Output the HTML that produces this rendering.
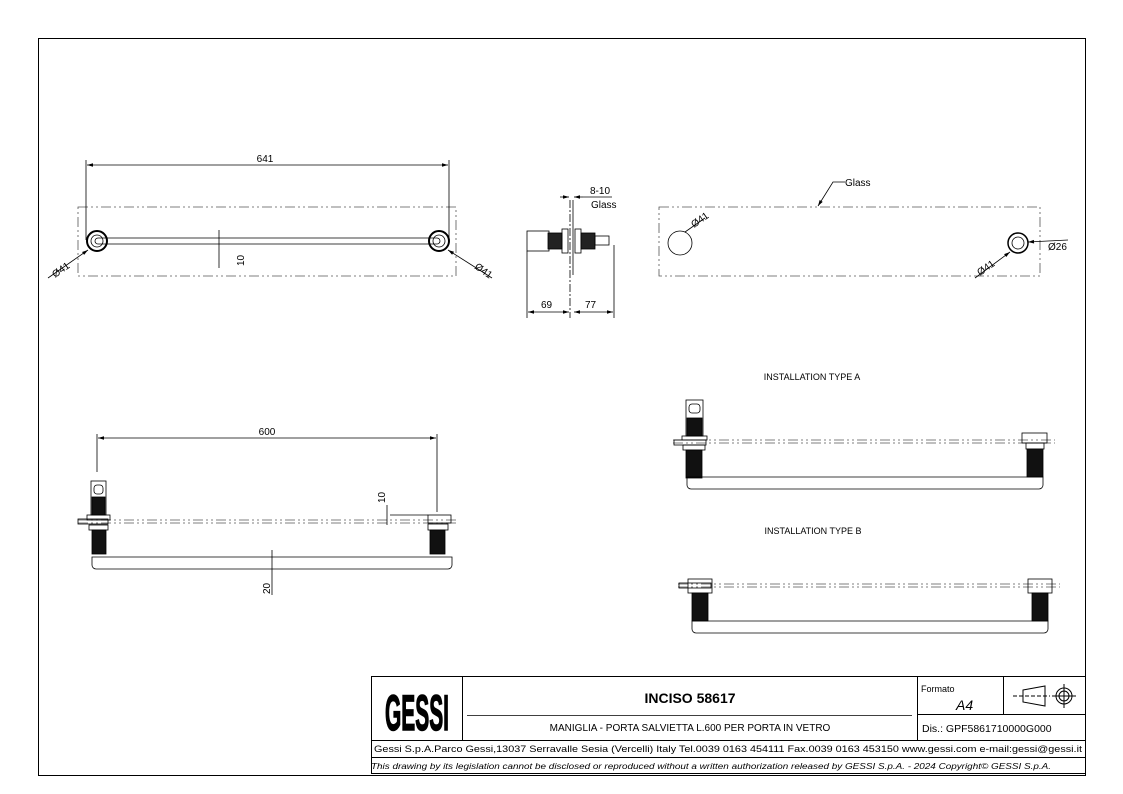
<!DOCTYPE html>
<html><head><meta charset="utf-8"><style>
html,body{margin:0;padding:0;background:#fff}
svg{display:block}
text{font-family:"Liberation Sans",sans-serif;fill:#000}
</style></head><body>
<svg width="1123" height="794" viewBox="0 0 1123 794" xmlns="http://www.w3.org/2000/svg">
<defs>
<marker id="a" viewBox="0 0 10 10" refX="10" refY="5" markerWidth="9" markerHeight="6" markerUnits="userSpaceOnUse" orient="auto-start-reverse"><path d="M0,2 L10,5 L0,8 z" fill="#000"/></marker>
</defs>
<rect x="38.5" y="38.5" width="1047" height="737" fill="none" stroke="#000" stroke-width="1"/>

<!-- top-left view -->
<g stroke="#000" fill="none" stroke-width="0.8">
<rect x="78" y="207" width="378" height="69" stroke-dasharray="10,3,2,3,2,3" stroke="#555"/>
<line x1="86" y1="160" x2="86" y2="240"/><line x1="449" y1="160" x2="449" y2="240"/>
<line x1="87" y1="165" x2="448" y2="165" marker-start="url(#a)" marker-end="url(#a)"/>
<rect x="95" y="238" width="345" height="6" rx="3"/>
<circle cx="97" cy="241" r="10" stroke-width="2"/><circle cx="97" cy="241" r="6"/>
<circle cx="439" cy="241" r="10" stroke-width="2"/><circle cx="439" cy="241" r="6"/>
<line x1="219" y1="230" x2="219" y2="268"/>
<line x1="48" y1="278" x2="88" y2="250" marker-end="url(#a)"/>
<line x1="448" y1="250" x2="492" y2="278" marker-start="url(#a)"/>
</g>
<text x="265" y="162" font-size="10" text-anchor="middle">641</text>
<text transform="translate(244,266) rotate(-90)" font-size="10">10</text>
<text transform="translate(55,278) rotate(-35)" font-size="10">Ø41</text>
<text transform="translate(474,268) rotate(35)" font-size="10">Ø41</text>

<!-- side view -->
<g stroke="#000" fill="none" stroke-width="0.8">
<line x1="570" y1="200" x2="570" y2="318" stroke-dasharray="8,2,2,2"/>
<line x1="573" y1="200" x2="573" y2="275"/>
<rect x="527" y="231" width="22" height="20"/>
<rect x="548" y="233" width="14" height="16" fill="#222"/>
<rect x="562" y="229" width="6" height="24"/>
<rect x="575" y="229" width="6" height="24"/>
<rect x="581" y="233" width="14" height="16" fill="#222"/>
<rect x="595" y="236" width="14" height="9"/>
<line x1="527" y1="251" x2="527" y2="318"/><line x1="614" y1="245" x2="614" y2="318"/>
<line x1="528" y1="312" x2="569" y2="312" marker-start="url(#a)" marker-end="url(#a)"/>
<line x1="574" y1="312" x2="613" y2="312" marker-start="url(#a)" marker-end="url(#a)"/>
<line x1="560" y1="197" x2="569" y2="197" marker-end="url(#a)"/>
<line x1="583" y1="197" x2="574" y2="197" marker-end="url(#a)"/>
<line x1="583" y1="197" x2="612" y2="197"/>
</g>
<text x="590" y="194" font-size="10">8-10</text>
<text x="591" y="208" font-size="10">Glass</text>
<text x="541" y="308" font-size="10">69</text>
<text x="585" y="308" font-size="10">77</text>

<!-- top right -->
<g stroke="#000" fill="none" stroke-width="0.8">
<rect x="659" y="207" width="381" height="69" stroke-dasharray="10,3,2,3,2,3" stroke="#555"/>
<circle cx="680" cy="243" r="12"/>
<circle cx="1018" cy="243" r="10" stroke-width="1.5"/><circle cx="1018" cy="243" r="6"/>
<polyline points="818,206 833,182 845,182" marker-start="url(#a)"/>
<line x1="975" y1="278" x2="1010" y2="252" marker-end="url(#a)"/>
<line x1="1068" y1="240" x2="1028" y2="242" marker-end="url(#a)"/>
<line x1="685" y1="232" x2="705" y2="218"/>
</g>
<text x="845" y="186" font-size="10">Glass</text>
<text transform="translate(694,228) rotate(-35)" font-size="10">Ø41</text>
<text transform="translate(980,276) rotate(-35)" font-size="10">Ø41</text>
<text x="1048" y="250" font-size="10">Ø26</text>

<!-- bottom left -->
<g stroke="#000" fill="none" stroke-width="0.8">
<line x1="97" y1="434" x2="97" y2="472"/><line x1="437" y1="434" x2="437" y2="512"/>
<line x1="98" y1="438" x2="436" y2="438" marker-start="url(#a)" marker-end="url(#a)"/>
<line x1="78" y1="520" x2="458" y2="520" stroke-dasharray="10,3,2,3,2,3" stroke="#555"/>
<line x1="78" y1="523" x2="458" y2="523" stroke-dasharray="10,3,2,3,2,3" stroke="#555"/>
<rect x="91" y="481" width="15" height="34"/>
<rect x="94" y="485" width="9" height="9" rx="3"/>
<rect x="92" y="497" width="13" height="18" fill="#111"/>
<rect x="87" y="515" width="23" height="5"/>
<rect x="78" y="519" width="30" height="5"/>
<rect x="89" y="525" width="19" height="5"/>
<rect x="92" y="530" width="14" height="24" fill="#111"/>
<rect x="428" y="515" width="23" height="8"/>
<rect x="428" y="524" width="20" height="6"/>
<rect x="430" y="530" width="15" height="24" fill="#111"/>
<path d="M92,557 h360 v8 a4,4 0 0 1 -4,4 h-352 a4,4 0 0 1 -4,-4 z"/>
<line x1="387" y1="505" x2="387" y2="525"/>
<line x1="390" y1="515" x2="428" y2="515"/>
<line x1="272" y1="550" x2="272" y2="595"/>
</g>
<text x="267" y="435" font-size="10" text-anchor="middle">600</text>
<text transform="translate(385,503) rotate(-90)" font-size="10">10</text>
<text transform="translate(270,594) rotate(-90)" font-size="10">20</text>

<!-- installation A -->
<text x="812" y="380" font-size="9" text-anchor="middle">INSTALLATION TYPE A</text>
<g stroke="#000" fill="none" stroke-width="0.8">
<line x1="673" y1="440" x2="1055" y2="440" stroke-dasharray="10,3,2,3,2,3" stroke="#555"/>
<line x1="673" y1="443" x2="1055" y2="443" stroke-dasharray="10,3,2,3,2,3" stroke="#555"/>
<rect x="686" y="400" width="17" height="36"/>
<rect x="689" y="404" width="11" height="9" rx="3"/>
<rect x="687" y="418" width="15" height="18" fill="#111"/>
<rect x="682" y="436" width="25" height="4"/>
<rect x="674" y="440" width="32" height="5"/>
<rect x="683" y="445" width="22" height="5"/>
<rect x="686" y="450" width="16" height="28" fill="#111"/>
<rect x="1022" y="433" width="25" height="10"/>
<rect x="1026" y="443" width="18" height="6"/>
<rect x="1027" y="449" width="16" height="28" fill="#111"/>
<path d="M687,477 h356 v8 a4,4 0 0 1 -4,4 h-348 a4,4 0 0 1 -4,-4 z"/>
</g>

<!-- installation B -->
<text x="813" y="534" font-size="9" text-anchor="middle">INSTALLATION TYPE B</text>
<g stroke="#000" fill="none" stroke-width="0.8">
<line x1="678" y1="584" x2="1060" y2="584" stroke-dasharray="10,3,2,3,2,3" stroke="#555"/>
<line x1="678" y1="587" x2="1060" y2="587" stroke-dasharray="10,3,2,3,2,3" stroke="#555"/>
<rect x="688" y="579" width="24" height="14"/>
<rect x="679" y="583" width="32" height="5"/>
<rect x="692" y="593" width="16" height="28" fill="#111"/>
<rect x="1028" y="579" width="24" height="14"/>
<rect x="1032" y="593" width="16" height="28" fill="#111"/>
<path d="M692,621 h356 v8 a4,4 0 0 1 -4,4 h-348 a4,4 0 0 1 -4,-4 z"/>
</g>

<!-- title block -->
<g stroke="#000" fill="none" stroke-width="1">
<rect x="371.5" y="676.5" width="714" height="97"/>
<line x1="371" y1="740.5" x2="1085" y2="740.5"/>
<line x1="371" y1="757.5" x2="1085" y2="757.5"/>
<line x1="462.5" y1="676" x2="462.5" y2="740"/>
<line x1="917.5" y1="676" x2="917.5" y2="740"/>
<line x1="1003.5" y1="676" x2="1003.5" y2="714"/>
<line x1="917" y1="714.5" x2="1085" y2="714.5"/>
<line x1="467" y1="715.5" x2="912" y2="715.5" stroke-width="0.8"/>
<path d="M1023,690 L1045,686 L1045,706 L1023,702 Z"/>
<line x1="1013" y1="696" x2="1050" y2="696" stroke-dasharray="4,2"/>
<circle cx="1064" cy="696" r="8"/><circle cx="1064" cy="696" r="5"/>
<line x1="1052" y1="696" x2="1076" y2="696"/><line x1="1064" y1="684" x2="1064" y2="708"/>
</g>
<text x="417" y="730" font-size="50" font-weight="bold" text-anchor="middle" textLength="64" lengthAdjust="spacingAndGlyphs" stroke="#000" stroke-width="1.5">GESSI</text>
<text x="690" y="703" font-size="14" font-weight="bold" text-anchor="middle">INCISO 58617</text>
<text x="690" y="731" font-size="10" text-anchor="middle">MANIGLIA - PORTA SALVIETTA L.600 PER PORTA IN VETRO</text>
<text x="921" y="692" font-size="9">Formato</text>
<text x="956" y="710" font-size="14" font-style="italic">A4</text>
<text x="922" y="732" font-size="10.5">Dis.: GPF5861710000G000</text>
<text x="728" y="752" font-size="9.5" text-anchor="middle" textLength="708" lengthAdjust="spacingAndGlyphs">Gessi S.p.A.Parco Gessi,13037 Serravalle Sesia (Vercelli) Italy Tel.0039 0163 454111 Fax.0039 0163 453150 www.gessi.com e-mail:gessi@gessi.it</text>
<text x="711" y="769" font-size="8" font-style="italic" text-anchor="middle" textLength="680" lengthAdjust="spacingAndGlyphs">This drawing by its legislation cannot be disclosed or reproduced without a written authorization released by GESSI S.p.A. - 2024 Copyright© GESSI S.p.A.</text>
</svg>
</body></html>
